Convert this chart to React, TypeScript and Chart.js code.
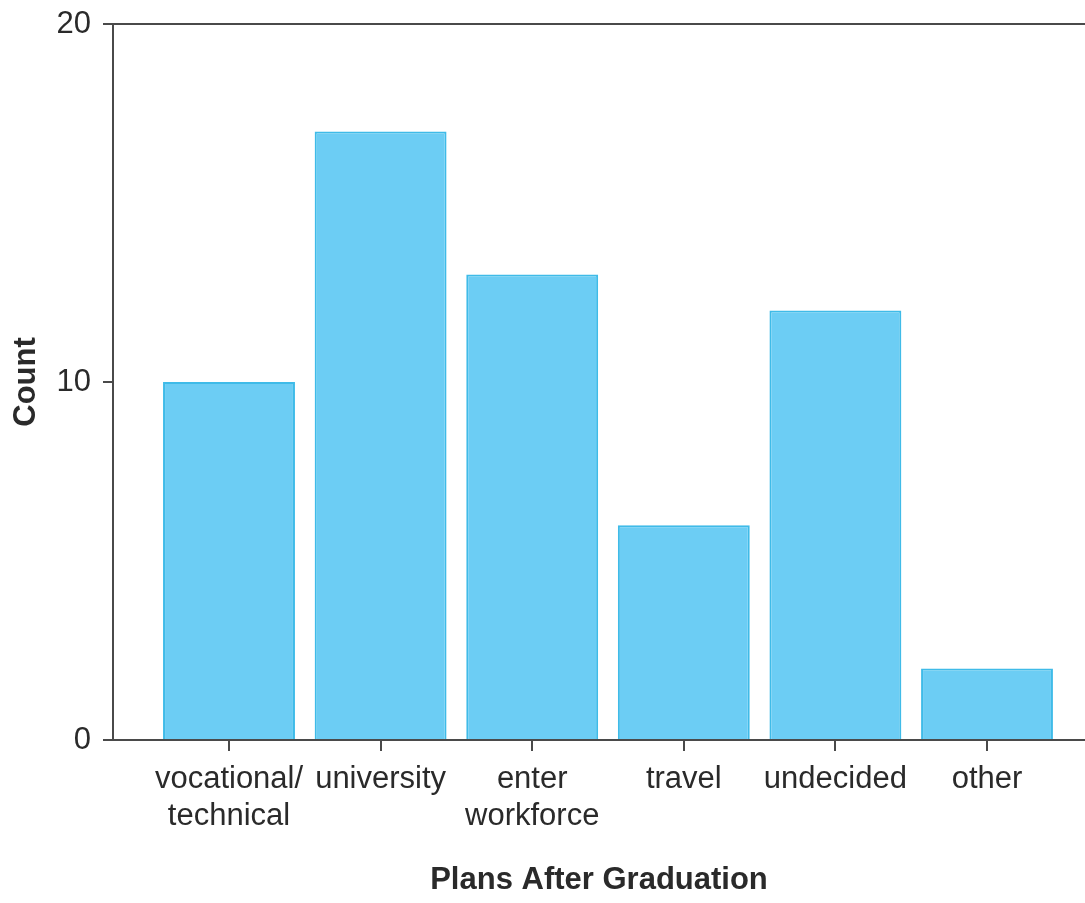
import React, { useEffect, useRef } from "react";
import { Chart, registerables } from "chart.js";

Chart.register(...registerables);

const categories: string[][] = [
  ["vocational/", "technical"],
  ["university"],
  ["enter", "workforce"],
  ["travel"],
  ["undecided"],
  ["other"],
];
const counts: number[] = [10, 17, 13, 6, 12, 2];
const yTicks: number[] = [0, 10, 20];
const xTitle = "Plans After Graduation";
const yTitle = "Count";

const FONT = "'Liberation Sans', Arial, Helvetica, sans-serif";
const AXIS = "#4a4a4a";
const TEXT = "#2a2a2a";

export default function App() {
  const ref = useRef<HTMLCanvasElement | null>(null);

  useEffect(() => {
    if (!ref.current) return;
    const chart = new Chart(ref.current, {
      type: "bar",
      data: {
        datasets: [
          {
            data: counts.map((v, i) => ({ x: i, y: v })),
            backgroundColor: "#6ccdf4",
            borderColor: "#3fbbe8",
            borderWidth: 2,
            categoryPercentage: 1,
            barPercentage: 0.87,
          },
        ],
      },
      options: {
        animation: false,
        responsive: false,
        layout: { padding: { top: 24, left: 0, right: 0, bottom: 0 } },
        plugins: { legend: { display: false }, tooltip: { enabled: false } },
        scales: {
          x: {
            type: "linear",
            min: -0.7652,
            max: 5.6464,
            bounds: "data",
            offset: false,
            afterFit: (s: any) => {
              s.height = 163;
              s.paddingLeft = 0;
              s.paddingRight = 0;
            },
            afterBuildTicks: (axis: any) => {
              axis.ticks = categories.map((_, i) => ({ value: i }));
            },
            ticks: {
              autoSkip: false,
              maxRotation: 0,
              padding: 10,
              color: TEXT,
              font: { family: FONT, size: 31, lineHeight: 1.2 },
              callback: (v: any) => categories[Number(v)] ?? "",
            },
            grid: {
              display: true,
              offset: false,
              drawOnChartArea: false,
              drawTicks: true,
              tickLength: 11,
              tickColor: AXIS,
              lineWidth: 2,
              color: AXIS,
            },
            border: { display: true, color: AXIS, width: 2 },
            title: {
              display: true,
              text: xTitle,
              color: TEXT,
              font: { family: FONT, size: 31, weight: "bold", lineHeight: 1.2 },
              padding: { top: 0, bottom: 4 },
            },
          },
          y: {
            min: 0,
            max: 20,
            afterFit: (s: any) => {
              s.width = 113;
              s.paddingTop = 0;
              s.paddingBottom = 0;
            },
            afterBuildTicks: (axis: any) => {
              axis.ticks = yTicks.map((v) => ({ value: v }));
            },
            ticks: {
              padding: 12,
              color: TEXT,
              font: { family: FONT, size: 31 },
            },
            grid: {
              display: true,
              drawOnChartArea: true,
              drawTicks: true,
              tickLength: 10,
              tickColor: AXIS,
              lineWidth: 2,
              color: (ctx: any) => (ctx.tick && ctx.tick.value === 20 ? AXIS : "rgba(0,0,0,0)"),
            },
            border: { display: true, color: AXIS, width: 2 },
            title: {
              display: true,
              text: yTitle,
              color: TEXT,
              font: { family: FONT, size: 31, weight: "bold", lineHeight: 1.2 },
              padding: { top: 8, bottom: 0 },
            },
          },
        },
      },
    });
    return () => chart.destroy();
  }, []);

  return (
    <div style={{ position: "absolute", left: 0, top: 0, width: 1085, height: 903, background: "#fff" }}>
      <canvas ref={ref} width={1085} height={903} style={{ display: "block" }} />
    </div>
  );
}
